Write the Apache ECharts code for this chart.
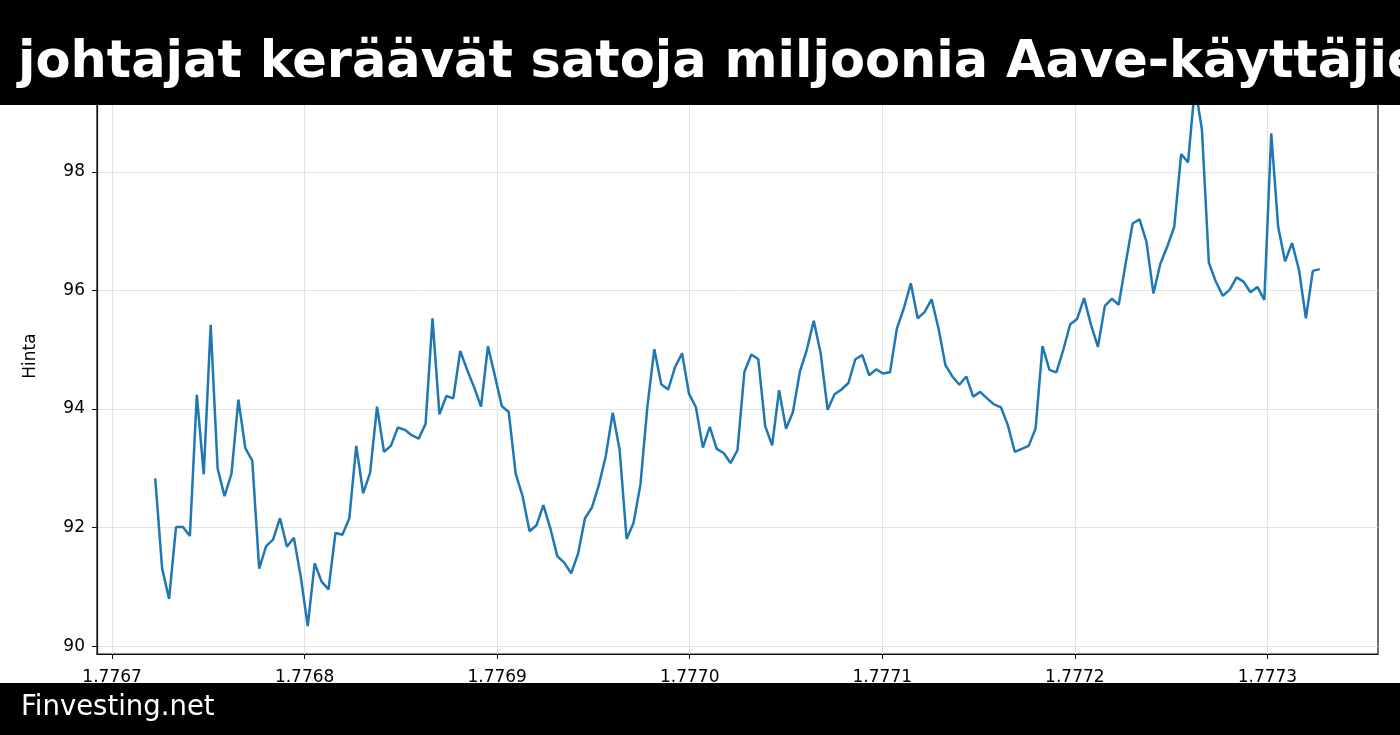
<!DOCTYPE html>
<html>
<head>
<meta charset="utf-8">
<title>Hinta</title>
<script src="https://cdn.jsdelivr.net/npm/echarts@6/dist/echarts.min.js"></script>
<style>
  html, body { margin: 0; padding: 0; background: #fff; }
  #chart { width: 1400px; height: 735px; }
</style>
</head>
<body>
<div id="chart"></div>
<script>
// hourly closes, first point at unix time 1776722400
const startTime = 1776722400
const stepSec = 3600
const prices = [
  92.83, 91.31, 90.80, 92.01, 92.01, 91.86, 94.24, 92.90, 95.42, 93.00,
  92.53, 92.91, 94.16, 93.34, 93.13, 91.31, 91.69, 91.80, 92.16, 91.68,
  91.83, 91.17, 90.34, 91.40, 91.09, 90.96, 91.91, 91.88, 92.16, 93.38,
  92.58, 92.93, 94.04, 93.28, 93.38, 93.69, 93.65, 93.56, 93.50, 93.75,
  95.53, 93.91, 94.22, 94.18, 94.98, 94.66, 94.37, 94.04, 95.06, 94.56,
  94.05, 93.95, 92.91, 92.53, 91.94, 92.04, 92.38, 91.99, 91.52, 91.41,
  91.23, 91.56, 92.16, 92.34, 92.72, 93.21, 93.94, 93.31, 91.81, 92.08,
  92.73, 94.04, 95.01, 94.42, 94.33, 94.71, 94.94, 94.26, 94.03, 93.35,
  93.70, 93.33, 93.26, 93.09, 93.31, 94.63, 94.92, 94.84, 93.71, 93.39,
  94.32, 93.67, 93.95, 94.63, 95.00, 95.49, 94.94, 93.99, 94.25, 94.33,
  94.44, 94.84, 94.91, 94.57, 94.67, 94.60, 94.62, 95.36, 95.70, 96.12,
  95.53, 95.64, 95.85, 95.36, 94.74, 94.55, 94.41, 94.55, 94.21, 94.29,
  94.18, 94.08, 94.03, 93.73, 93.28, 93.33, 93.38, 93.67, 95.06, 94.66,
  94.62, 95.00, 95.43, 95.52, 95.87, 95.42, 95.05, 95.74, 95.86, 95.76,
  96.46, 97.13, 97.20, 96.82, 95.95, 96.45, 96.74, 97.07, 98.30, 98.16,
  99.46, 98.71, 96.47, 96.15, 95.91, 96.01, 96.22, 96.15, 95.97, 96.06,
  95.84, 98.65, 97.07, 96.49, 96.80, 96.35, 95.53, 96.33, 96.36
]
const xTicks = [1776700000, 1776800000, 1776900000, 1777000000, 1777100000, 1777200000, 1777300000]
const yTicks = [90, 92, 94, 96, 98]
const titleText = 'johtajat keräävät satoja miljoonia Aave-käyttäjien'
const footerText = 'Finvesting.net'

const points = prices.map((p, i) => [startTime + i * stepSec, p])

const chart = echarts.init(document.getElementById('chart'), null, { renderer: 'canvas' })
const font = '"DejaVu Sans", sans-serif'

chart.setOption({
  animation: false,
  backgroundColor: '#fff',
  textStyle: { fontFamily: font },
  grid: {
    left: 97,
    right: 22,
    top: 58,
    bottom: 81,
    show: true,
    borderColor: '#111',
    borderWidth: 1.2,
    outerBoundsMode: 'none'
  },
  xAxis: {
    type: 'value',
    min: 1776692160,
    max: 1777357440,
    axisLine: { show: true, lineStyle: { color: '#111', width: 1.2 } },
    axisTick: { show: true, length: 5, lineStyle: { color: '#111' }, customValues: xTicks },
    axisLabel: {
      customValues: xTicks,
      color: '#000',
      fontSize: 17,
      fontFamily: font,
      margin: 15,
      formatter: v => (v / 1e9).toFixed(4)
    },
    splitLine: { show: true, lineStyle: { color: '#e2e2e2', width: 1 } }
  },
  yAxis: {
    type: 'value',
    min: 89.87,
    max: 99.92,
    name: 'Hinta',
    nameLocation: 'middle',
    nameGap: 58,
    nameTextStyle: { color: '#000', fontSize: 17, fontFamily: font },
    axisLine: { show: true, lineStyle: { color: '#111', width: 1.2 } },
    axisTick: { show: true, length: 5, lineStyle: { color: '#111' }, customValues: yTicks },
    axisLabel: {
      customValues: yTicks,
      color: '#000',
      fontSize: 17,
      fontFamily: font,
      margin: 12
    },
    splitLine: { show: true, lineStyle: { color: '#e2e2e2', width: 1 } }
  },
  series: [
    {
      type: 'line',
      data: points,
      showSymbol: false,
      lineStyle: { color: '#1f77b4', width: 2.5 },
      z: 3
    }
  ],
  graphic: [
    { type: 'rect', z: 100, shape: { x: 0, y: 0, width: 1400, height: 105 }, style: { fill: '#000' } },
    {
      type: 'text', z: 101, x: 18, y: 64,
      style: { text: titleText, fill: '#fff', font: 'bold 51px ' + font, verticalAlign: 'middle' }
    },
    { type: 'rect', z: 100, shape: { x: 0, y: 683, width: 1400, height: 52 }, style: { fill: '#000' } },
    {
      type: 'text', z: 101, x: 21, y: 708,
      style: { text: footerText, fill: '#fff', font: '27.5px ' + font, verticalAlign: 'middle' }
    }
  ]
})
</script>
</body>
</html>
